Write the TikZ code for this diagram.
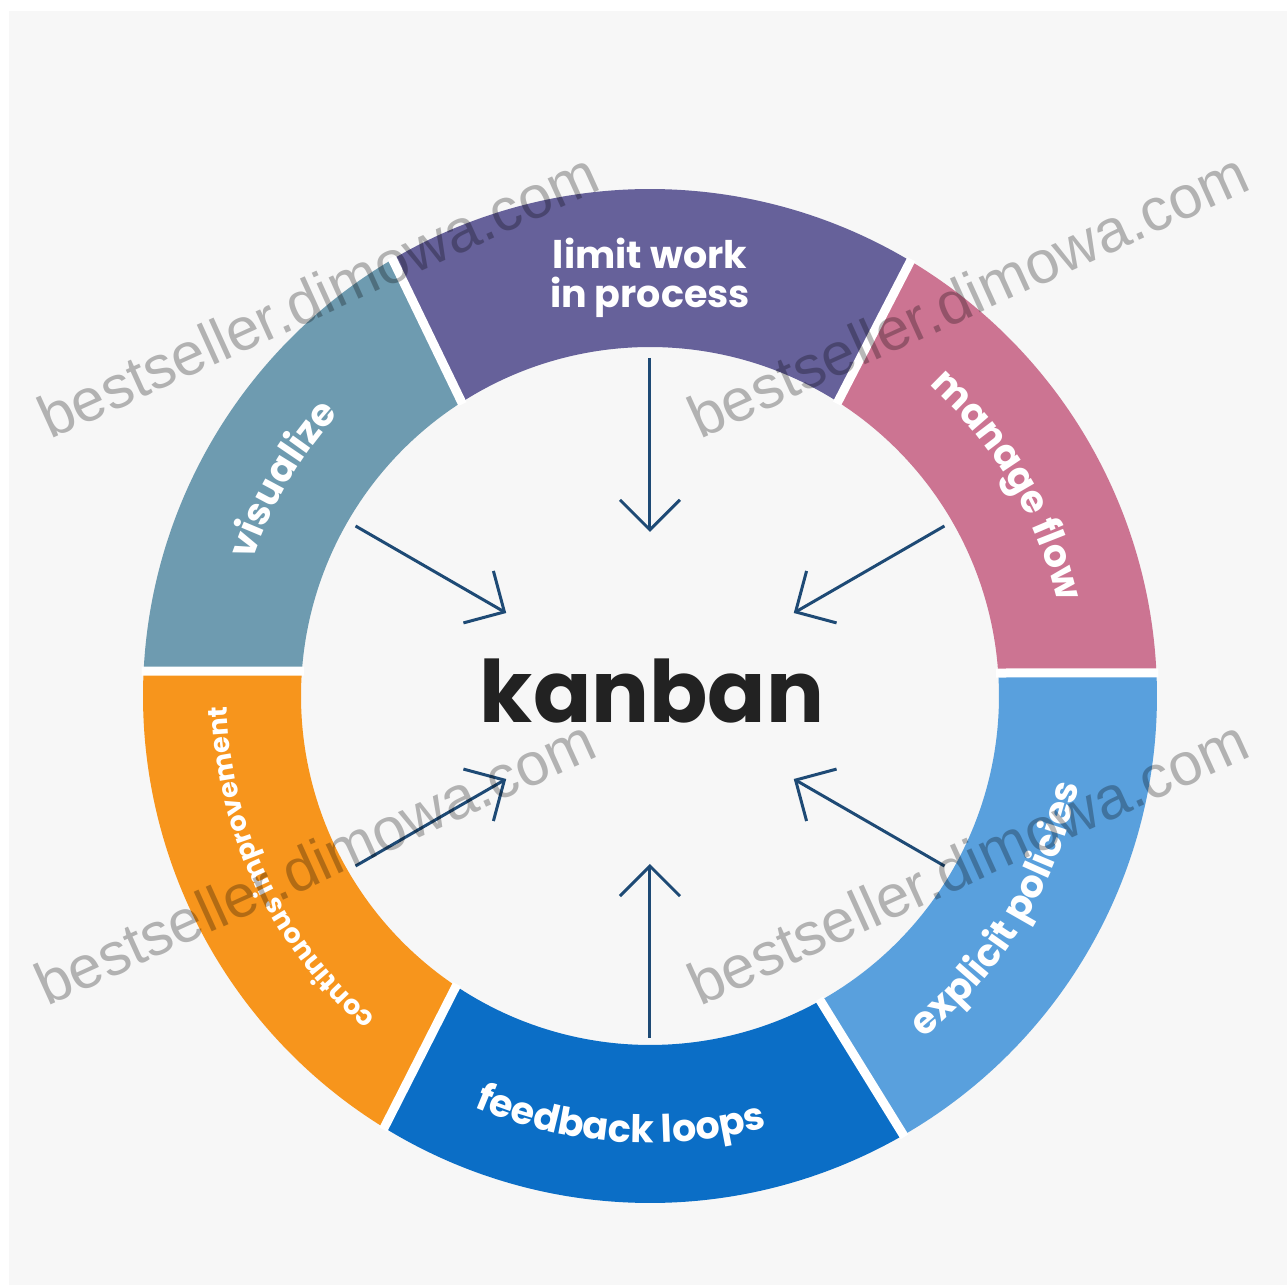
\documentclass[tikz,border=0pt]{standalone}
\usepackage{fontspec}
\setmainfont{Poppins}
\newfontfamily\wmfont{Liberation Sans}
\usetikzlibrary{arrows.meta,decorations.text}
\definecolor{bgc}{HTML}{F7F7F7}
\definecolor{cvis}{HTML}{6E9BB0}
\definecolor{clim}{HTML}{66619A}
\definecolor{cman}{HTML}{CC7492}
\definecolor{cexp}{HTML}{59A0DD}
\definecolor{cfee}{HTML}{0B6EC6}
\definecolor{ccon}{HTML}{F7951C}
\definecolor{carr}{HTML}{1E4A75}
\definecolor{ckan}{HTML}{222222}
\newcommand\lblfont{\fontsize{19pt}{19.5pt}\selectfont\bfseries}
\newcommand\smlfont{\fontsize{13.5pt}{13.5pt}\selectfont\bfseries}
\newcommand\ringseg[5]{\fill[#1] (#2:507) arc[start angle=#2,end angle=#3,radius=507] -- (#4:349) arc[start angle=#4,end angle=#5,radius=349] -- cycle;}
\begin{document}
\begin{tikzpicture}[x=0.5pt,y=0.5pt,
  gapline/.style={white, line width=4.5pt},
  arr/.style={carr, line width=1.5pt, -{Straight Barb[length=15pt,width=30pt]}},
  wm/.style={black, opacity=0.28, font=\wmfont\fontsize{30pt}{30pt}\selectfont, rotate=24.4, anchor=base west, inner sep=0pt},
  curvelbl/.style={decorate, decoration={text along path, text align=center, text color=white, text={#1}}}
]
\useasboundingbox (-650,-589) rectangle (637,696);
\fill[white] (-650,-589) rectangle (637,696);
\fill[bgc] (-641,-589) rectangle (637,685);

% ring segments
\ringseg{cexp}{-60}{2.6}{3.8}{-60.8}
\ringseg{cman}{2.6}{59.1}{57.4}{3.8}
\ringseg{clim}{59.1}{120.5}{122.7}{57.4}
\ringseg{cvis}{120.5}{177.2}{175.9}{122.7}
\ringseg{ccon}{177.2}{238.4}{236.2}{175.9}
\ringseg{cfee}{238.4}{300}{299.2}{236.2}

% gaps
\draw[gapline] (120.5:509) -- (122.7:347);
\draw[gapline] (59.1:509) -- (57.4:347);
\draw[gapline] (2.6:509) -- (3.8:347);
\draw[gapline] (-60:509) -- (-60.8:347);
\draw[gapline] (238.4:509) -- (236.2:347);
\draw[gapline] (177.2:509) -- (175.9:347);

% labels
\node[font=\lblfont, text=white, align=center] (limit) at (0,418) {limit work\\in process};
\path[curvelbl={|\lblfont|visualize}] (177:420) arc[start angle=177,end angle=122,radius=420];
\path[curvelbl={|\lblfont|manage flow}] (58:418) arc[start angle=58,end angle=3,radius=418];
\path[curvelbl={|\lblfont|explicit policies}] (-63:438) arc[start angle=-63,end angle=0,radius=438];
\path[curvelbl={|\lblfont|feedback loops}] (233:447) arc[start angle=233,end angle=299,radius=447];
\path[curvelbl={|\smlfont|continuous improvement}] (236:423) arc[start angle=236,end angle=175,radius=423];

% centre
\node[font=\fontsize{43pt}{43pt}\selectfont\bfseries, text=ckan, anchor=base, inner sep=0pt] (kanban) at (2,-27) {kanban};

% arrows
\coordinate (s1) at (90:338);  \coordinate (t1) at (90:164);
\coordinate (s2) at (150:340); \coordinate (t2) at (150:166);
\coordinate (s3) at (30:340);  \coordinate (t3) at (30:166);
\coordinate (s4) at (-30:340); \coordinate (t4) at (-30:166);
\coordinate (s5) at (-90:342); \coordinate (t5) at (-90:168);
\coordinate (s6) at (-150:340);\coordinate (t6) at (-150:166);
\foreach \i in {1,...,6} {\draw[arr] (s\i) -- (t\i);}

% watermark
\node[wm] (wm1) at (-600,256) {bestseller.dimowa.com};
\node[wm] (wm2) at (50,256) {bestseller.dimowa.com};
\node[wm] (wm3) at (-603,-311) {bestseller.dimowa.com};
\node[wm] (wm4) at (50,-311) {bestseller.dimowa.com};
\end{tikzpicture}
\end{document}
